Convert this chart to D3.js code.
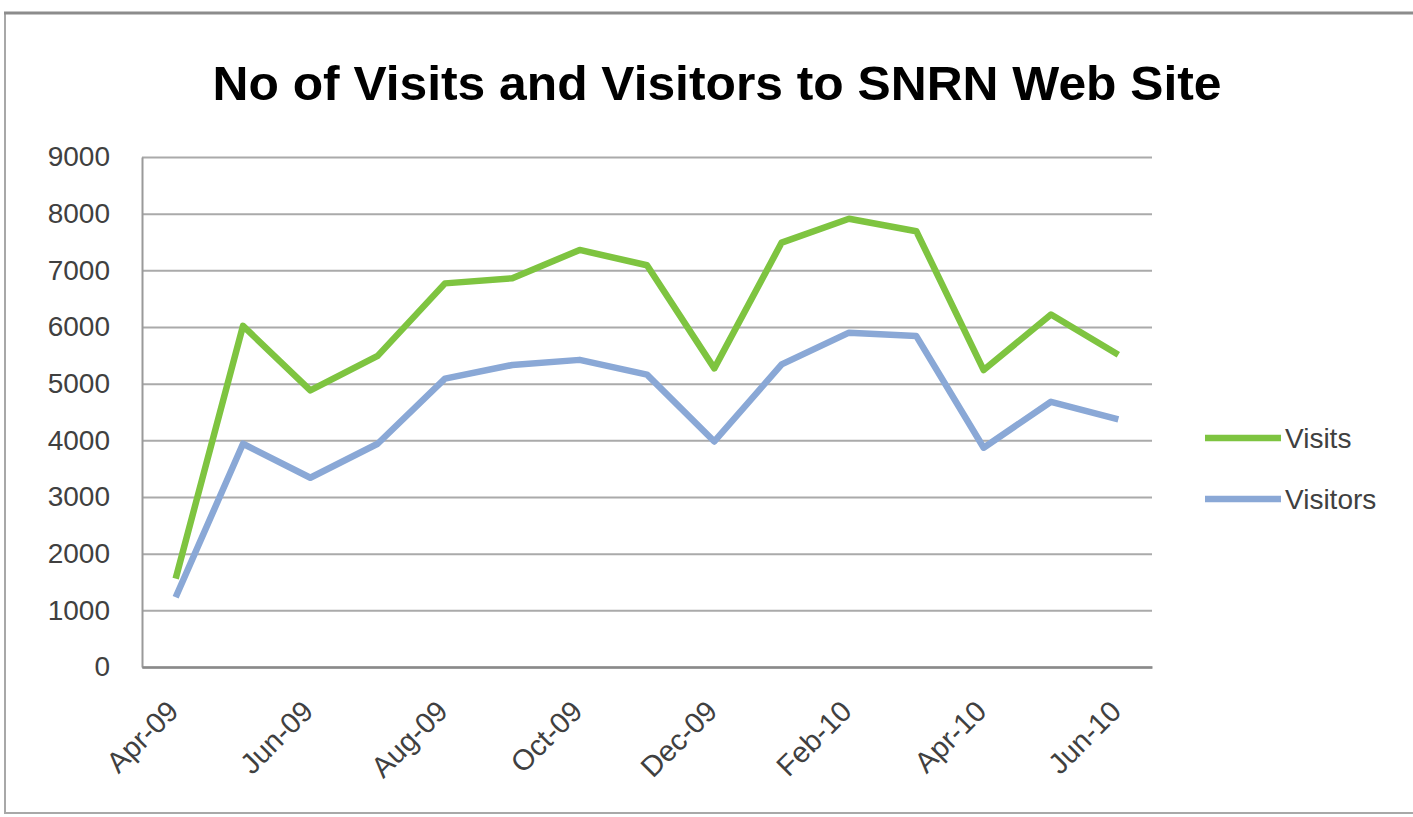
<!DOCTYPE html>
<html>
<head>
<meta charset="utf-8">
<script src="https://cdn.jsdelivr.net/npm/d3@7"></script>
<style>
  body { margin: 0; background: #fff; }
  svg { display: block; font-family: "Liberation Sans", Arial, sans-serif; }
</style>
</head>
<body>
<svg id="chart"></svg>
<script>
const months = ["Apr-09", "May-09", "Jun-09", "Jul-09", "Aug-09", "Sep-09", "Oct-09", "Nov-09",
                "Dec-09", "Jan-10", "Feb-10", "Mar-10", "Apr-10", "May-10", "Jun-10"]
const visits = [1560, 6020, 4880, 5490, 6770, 6860, 7360, 7090, 5270, 7490, 7910, 7690, 5240, 6220, 5510]
const visitors = [1230, 3940, 3340, 3940, 5090, 5330, 5420, 5160, 3980, 5340, 5900, 5840, 3870, 4680, 4370]
const xTickLabels = ["Apr-09", "Jun-09", "Aug-09", "Oct-09", "Dec-09", "Feb-10", "Apr-10", "Jun-10"]
const yTicks = [0, 1000, 2000, 3000, 4000, 5000, 6000, 7000, 8000, 9000]
const seriesNames = ["Visits", "Visitors"]
const seriesColors = ["#7ec440", "#8aa8d6"]

let width = 1413,
    height = 817,
    plotLeft = 142, plotRight = 1152, plotTop = 157, plotBottom = 667

let svg = d3.select("#chart").attr("width", width).attr("height", height)

// outer chart frame
svg.append("rect")
  .attr("x", 5).attr("y", 13)
  .attr("width", 1420).attr("height", 800)
  .attr("fill", "none").attr("stroke", "#a8a8a8").attr("stroke-width", 2)
svg.append("line")
  .attr("x1", 4).attr("x2", width).attr("y1", 13).attr("y2", 13)
  .attr("stroke", "#8c8c8c").attr("stroke-width", 3)

svg.append("text")
  .attr("x", 717).attr("y", 100)
  .attr("text-anchor", "middle")
  .attr("font-size", 49).attr("font-weight", "bold")
  .attr("textLength", 1009).attr("lengthAdjust", "spacingAndGlyphs")
  .attr("fill", "#000")
  .text("No of Visits and Visitors to SNRN Web Site")

let x = d3.scalePoint().domain(months).range([plotLeft, plotRight]).padding(0.5)
let y = d3.scaleLinear().domain([0, 9000]).range([plotBottom, plotTop])

// gridlines
svg.append("g")
  .attr("transform", `translate(${plotLeft},0)`)
  .call(d3.axisLeft(y).tickValues(yTicks).tickSize(-(plotRight - plotLeft)).tickFormat(""))
  .call(g => g.select(".domain").remove())
  .call(g => g.selectAll(".tick line").attr("stroke", "#aaaaaa").attr("stroke-width", 2))

// y axis labels
svg.append("g")
  .attr("transform", `translate(${plotLeft},0)`)
  .call(d3.axisLeft(y).tickValues(yTicks).tickSize(0).tickPadding(32).tickFormat(d3.format("d")))
  .call(g => g.select(".domain").attr("stroke", "#9a9a9a").attr("stroke-width", 2))
  .call(g => g.selectAll("text")
    .attr("font-size", 28).attr("fill", "#404040")
    .attr("font-family", "Liberation Sans, Arial, sans-serif"))

// x axis
svg.append("g")
  .attr("transform", `translate(0,${plotBottom})`)
  .call(d3.axisBottom(x).tickValues(xTickLabels).tickSize(0).tickFormat(d => d))
  .call(g => g.select(".domain").attr("stroke", "#8a8a8a").attr("stroke-width", 2.5))
  .call(g => g.selectAll("text")
    .attr("font-size", 29).attr("fill", "#404040")
    .attr("font-family", "Liberation Sans, Arial, sans-serif")
    .attr("text-anchor", "end")
    .attr("dy", 0).attr("y", 0)
    .attr("transform", "translate(4,46) rotate(-45)"))

let line = d3.line()
  .x((d, i) => x(months[i]))
  .y(d => y(d))

let series = [visits, visitors]
series.forEach((s, k) => {
  svg.append("path")
    .datum(s)
    .attr("d", line)
    .attr("fill", "none")
    .attr("stroke", seriesColors[k])
    .attr("stroke-width", 6.5)
    .attr("stroke-linejoin", "round")
})

// legend
let legend = svg.append("g")
seriesNames.forEach((name, k) => {
  let ly = 438 + k * 61
  legend.append("line")
    .attr("x1", 1205).attr("x2", 1281).attr("y1", ly).attr("y2", ly)
    .attr("stroke", seriesColors[k]).attr("stroke-width", 6.5)
  legend.append("text")
    .attr("x", 1285).attr("y", ly + 10)
    .attr("font-size", 28).attr("fill", "#404040")
    .text(name)
})
</script>
</body>
</html>
